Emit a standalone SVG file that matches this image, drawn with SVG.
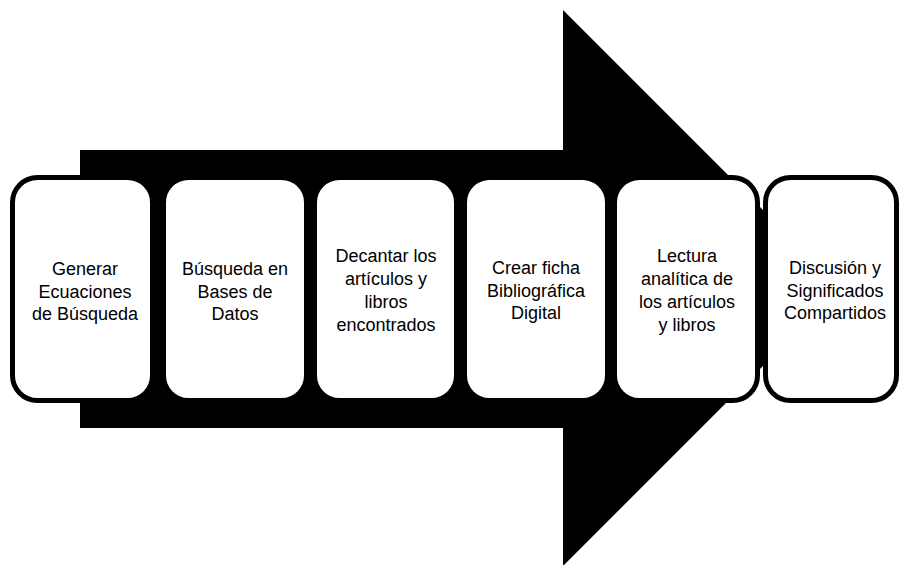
<svg xmlns="http://www.w3.org/2000/svg" width="901" height="565" viewBox="0 0 901 565">
<style>
.box{fill:#fff;stroke:#000;stroke-width:5}
.t{font-family:"Liberation Sans",Arial,sans-serif;font-size:18px;fill:#000;text-anchor:middle}
</style>
<rect width="901" height="565" fill="#fff"/>
<g id="arrow">
<polygon points="80,150 563,150 563,10 841,288 563,566 563,428 80,428" fill="#000"/>
</g>
<g id="connectors"></g>
<g id="n1">
<rect class="box" x="12.5" y="177.5" width="140" height="223" rx="25"/>
<text class="t" x="85"><tspan x="85" y="275">Generar</tspan><tspan x="85" y="297.5">Ecuaciones</tspan><tspan x="85" y="320">de Búsqueda</tspan></text>
</g>
<g id="n2">
<rect class="box" x="163.5" y="177.5" width="143" height="223" rx="25"/>
<text class="t"><tspan x="235" y="275">Búsqueda en</tspan><tspan x="235" y="297.5">Bases de</tspan><tspan x="235" y="320">Datos</tspan></text>
</g>
<g id="n3">
<rect class="box" x="314.5" y="177.5" width="142" height="223" rx="25"/>
<text class="t"><tspan x="386" y="262">Decantar los</tspan><tspan x="386" y="285">artículos y</tspan><tspan x="386" y="308">libros</tspan><tspan x="386" y="331">encontrados</tspan></text>
</g>
<g id="n4">
<rect class="box" x="464.5" y="177.5" width="143" height="223" rx="25"/>
<text class="t"><tspan x="536" y="274">Crear ficha</tspan><tspan x="536" y="296.5">Bibliográfica</tspan><tspan x="536" y="319">Digital</tspan></text>
</g>
<g id="n5">
<rect class="box" x="614.5" y="177.5" width="143" height="223" rx="25"/>
<text class="t"><tspan x="687" y="262">Lectura</tspan><tspan x="687" y="285">analítica de</tspan><tspan x="687" y="308">los artículos</tspan><tspan x="687" y="331">y libros</tspan></text>
</g>
<g id="n6">
<rect class="box" x="765.5" y="177.5" width="131" height="223" rx="25"/>
<text class="t"><tspan x="835" y="274">Discusión y</tspan><tspan x="835" y="296.5">Significados</tspan><tspan x="835" y="319">Compartidos</tspan></text>
</g>
</svg>
